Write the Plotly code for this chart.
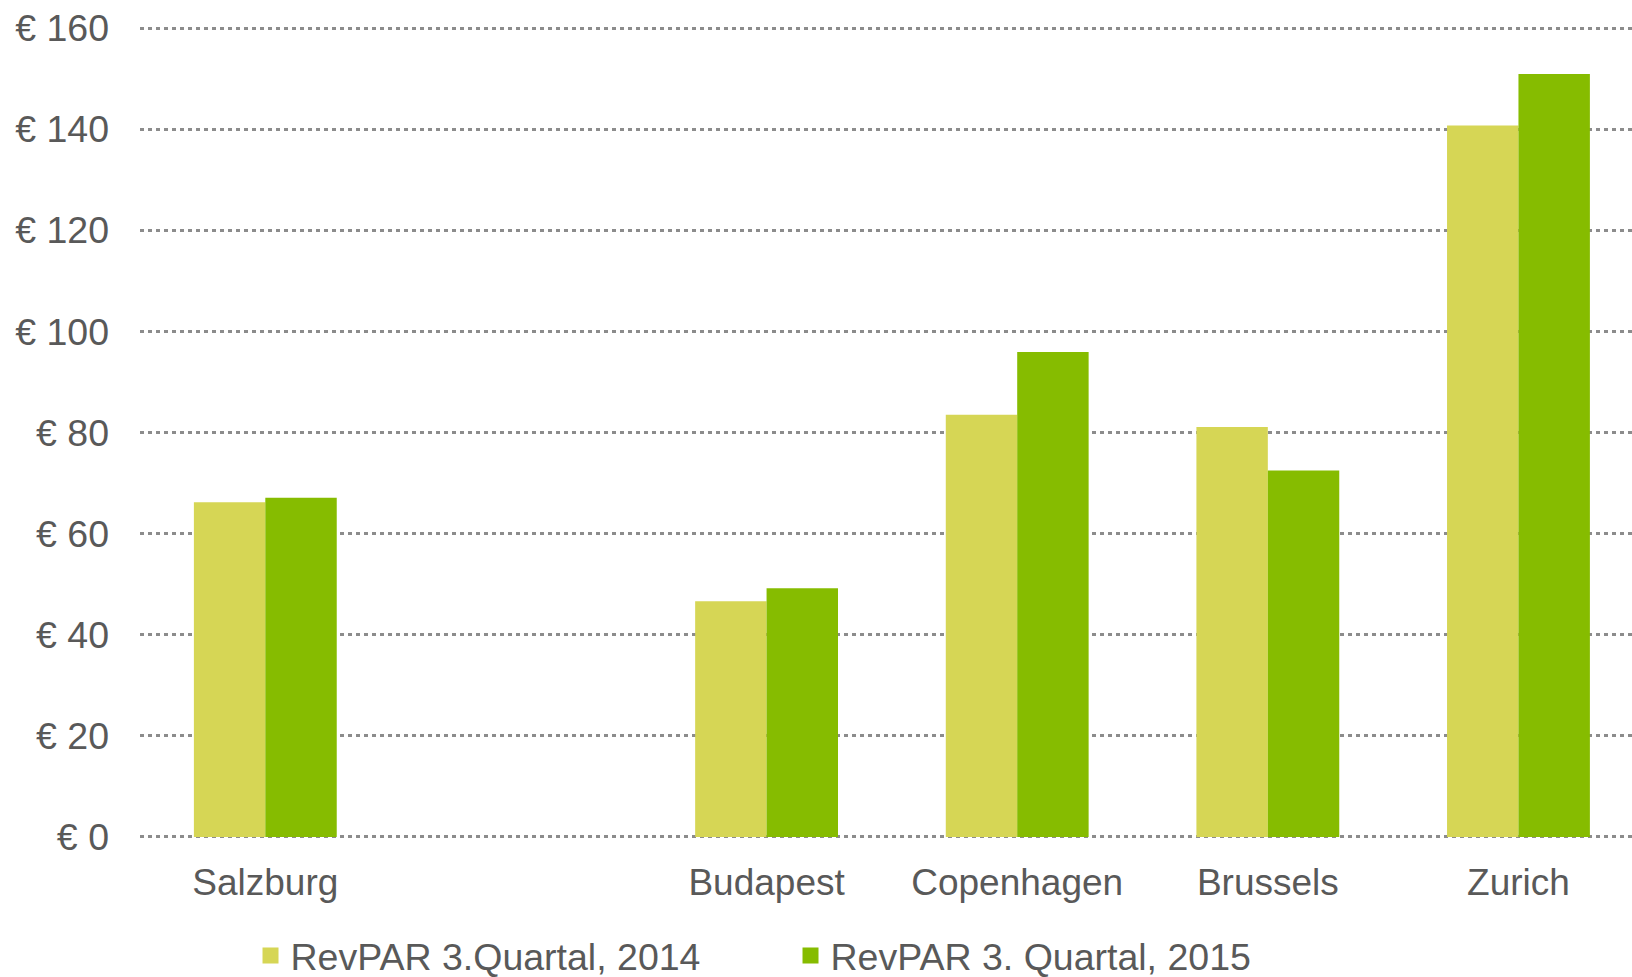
import plotly.graph_objects as go

categories = ["Salzburg", " ", "Budapest", "Copenhagen", "Brussels", "Zurich"]
revpar_2014 = [66.2, None, 46.6, 83.5, 81.1, 140.7]
revpar_2015 = [67.1, None, 49.2, 95.9, 72.5, 150.9]
series_names = ["RevPAR 3.Quartal, 2014", "RevPAR 3. Quartal, 2015"]
series_colors = ["#D6D655", "#86BC00"]
y_ticks = [0, 20, 40, 60, 80, 100, 120, 140, 160]
y_tick_labels = ["€ " + str(v) for v in y_ticks]

FONT = "Liberation Sans, Arial, sans-serif"
TEXT = "#595959"

fig = go.Figure()
for vals, name, col in zip([revpar_2014, revpar_2015], series_names, series_colors):
    fig.add_trace(go.Bar(x=categories, y=vals, name=name, legendgroup=name,
                         showlegend=False,
                         marker=dict(color=col, line=dict(width=0))))
for name, col in zip(series_names, series_colors):
    fig.add_trace(go.Scatter(x=[None], y=[None], mode="markers", name=name,
                             legendgroup=name, showlegend=True,
                             marker=dict(symbol="square", size=18, color=col)))

fig.update_layout(
    width=1632, height=977,
    margin=dict(l=140, r=0, t=27, b=139),
    paper_bgcolor="white", plot_bgcolor="white",
    barmode="group", bargap=0.43, bargroupgap=0,
    font=dict(family=FONT, size=37, color=TEXT),
    showlegend=True,
    legend=dict(orientation="h", x=0.436, xanchor="center", xref="paper",
                y=0.022, yanchor="middle", yref="container",
                font=dict(family=FONT, size=37.5, color=TEXT),
                entrywidth=495, traceorder="normal"),
    xaxis=dict(type="category", range=[-0.5, 5.453], showgrid=False, zeroline=False,
               showline=False, ticks="", ticklabelstandoff=19,
               tickfont=dict(family=FONT, size=37, color=TEXT)),
    yaxis=dict(range=[-0.2, 160.2], tickvals=y_ticks, ticktext=y_tick_labels,
               showgrid=True, gridcolor="#8C8C8C", gridwidth=3, griddash="4px,4px",
               zeroline=False, showline=False, ticks="", ticklabelstandoff=30,
               tickfont=dict(family=FONT, size=37.5, color=TEXT)),
)

fig.write_html("out.html", config={"displayModeBar": False},
               post_script="document.body.style.margin='0';")
